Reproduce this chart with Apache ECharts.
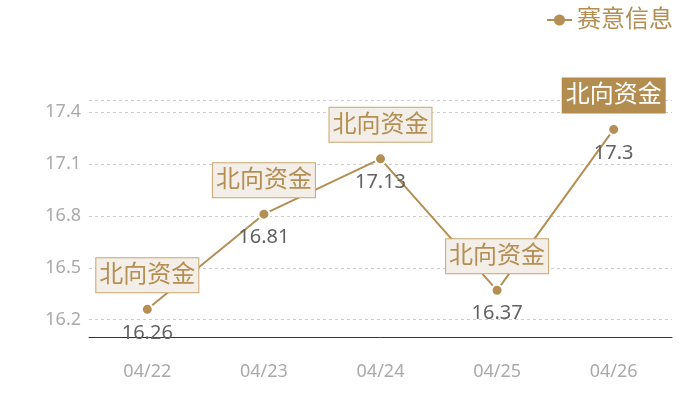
<!DOCTYPE html>
<html>
<head>
<meta charset="utf-8">
<script src="https://cdn.jsdelivr.net/npm/echarts@6/dist/echarts.min.js"></script>
<style>html,body{margin:0;padding:0;background:#fff}#main{width:700px;height:400px}</style>
</head>
<body>
<div id="main"></div>
<script>
var categories = ['04/22', '04/23', '04/24', '04/25', '04/26'];
var values = [16.26, 16.81, 17.13, 16.37, 17.3];
var seriesName = '赛意信息';
var markText = '北向资金';
var highlightIndex = 4;

var gold = '#b48e52';
var font = "'Noto Sans', 'Noto Sans CJK SC', sans-serif";

var markData = categories.map(function (c, i) {
  var d = { coord: [c, values[i]], value: markText };
  if (i === highlightIndex) {
    d.label = { backgroundColor: '#b38c4f', borderColor: '#b38c4f', color: '#fff' };
  }
  return d;
});

var chart = echarts.init(document.getElementById('main'));
chart.setOption({
  animation: false,
  textStyle: { fontFamily: font },
  legend: {
    right: 22, top: 3,
    itemWidth: 25, itemHeight: 14,
    itemStyle: { borderWidth: 0 },
    textStyle: { color: gold, fontSize: 24, fontFamily: font },
    data: [seriesName]
  },
  grid: { left: 89, right: 28, top: 100, bottom: 63 },
  xAxis: {
    type: 'category',
    data: categories,
    axisLine: { lineStyle: { color: '#333', width: 1 } },
    axisTick: { show: false },
    axisLabel: { color: '#aaa', fontSize: 18, margin: 26, fontFamily: font }
  },
  yAxis: {
    type: 'value',
    min: 16.1, max: 17.47,
    axisLine: { show: false },
    axisTick: { show: false },
    axisLabel: { color: '#aaa', fontSize: 18, margin: 8, showMinLabel: false, showMaxLabel: false, fontFamily: font },
    splitLine: { lineStyle: { color: '#ccc', type: [3, 3], width: 1 } }
  },
  series: [{
    name: seriesName,
    type: 'line',
    data: values,
    symbol: 'circle',
    symbolSize: 11,
    lineStyle: { color: gold, width: 2 },
    itemStyle: { color: gold, borderColor: '#fff', borderWidth: 2 },
    label: { show: true, position: 'bottom', distance: 7, color: '#626262', fontSize: 20, fontFamily: font },
    markPoint: {
      symbol: 'circle',
      symbolSize: 0,
      label: {
        show: true,
        position: 'top',
        distance: 17,
        formatter: markText,
        fontSize: 24,
        fontFamily: font,
        color: gold,
        backgroundColor: '#f3efe8',
        borderColor: '#caa56f',
        borderWidth: 1,
        padding: [5, 3, 5, 3]
      },
      data: markData
    }
  }]
});
</script>
</body>
</html>
